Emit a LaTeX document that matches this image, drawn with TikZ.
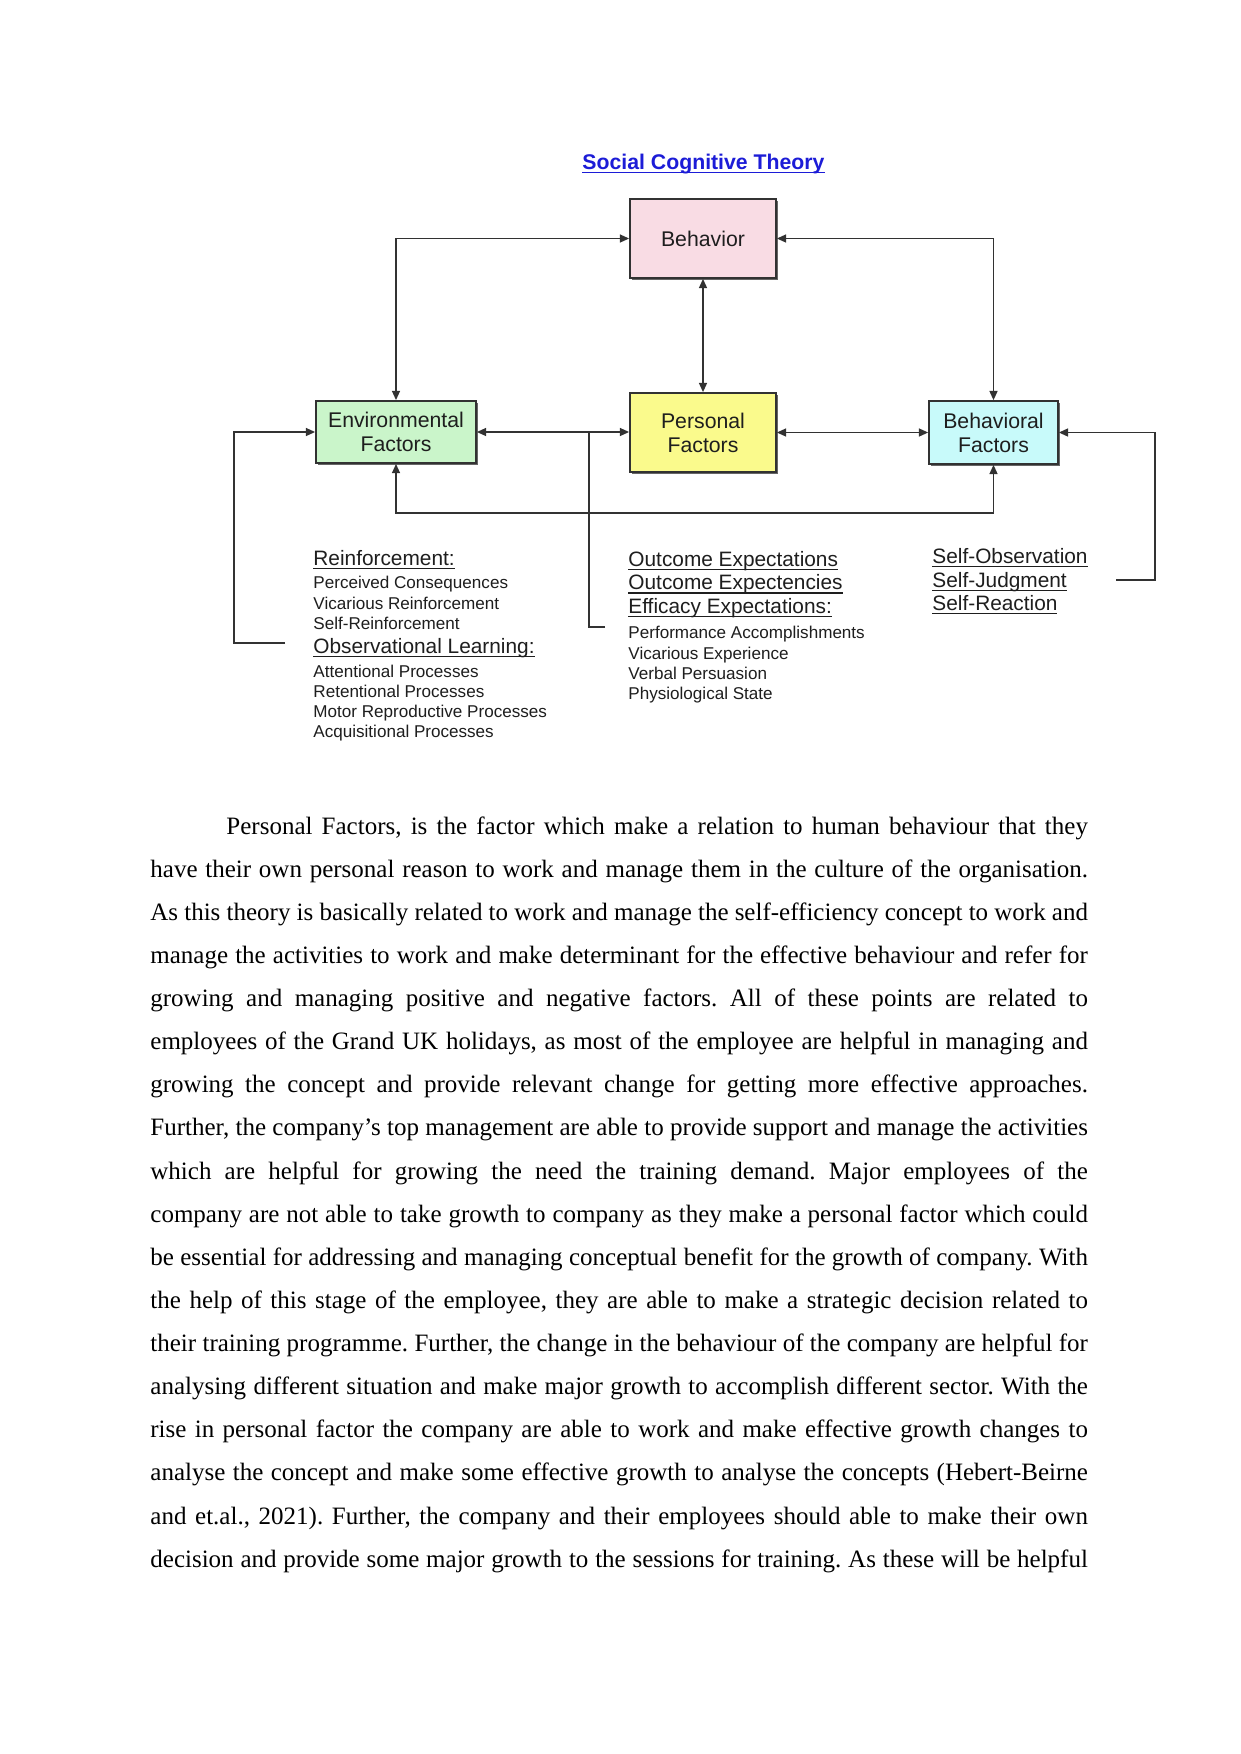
\documentclass[tikz,border=0pt]{standalone}
\usepackage{fontspec}
\setmainfont{Liberation Serif}
\newfontfamily\arialf{Liberation Sans}
\usetikzlibrary{arrows.meta,shadows}
\definecolor{linegray}{RGB}{50,50,50}
\definecolor{txt}{RGB}{30,30,30}
\definecolor{titleblue}{RGB}{28,28,215}
\definecolor{pinkfill}{RGB}{249,220,228}
\definecolor{greenfill}{RGB}{202,245,202}
\definecolor{yellowfill}{RGB}{250,250,140}
\definecolor{cyanfill}{RGB}{200,250,250}
\newcommand\myul[1]{\setbox0=\hbox{#1}\rlap{\vrule height -1.2pt depth 2.0pt width \wd0}\box0}
\newcommand\bodyln[1]{\hbox to 450pt{#1}}
\frenchspacing
\begin{document}
\begin{tikzpicture}[x=0.48pt,y=-0.48pt,
  >={Triangle[length=4.4pt,width=3.8pt]},
  box/.style={draw=linegray, line width=0.85pt, align=center, text=txt, inner sep=0pt,
    font=\arialf\fontsize{10.2pt}{11.5pt}\selectfont,
    drop shadow={shadow xshift=1.1pt,shadow yshift=-1.1pt,opacity=1,fill=black!60}},
  conn/.style={draw=linegray, line width=0.75pt},
  hdr/.style={anchor=base west, inner sep=0pt, text=txt, font=\arialf\fontsize{10pt}{12pt}\selectfont},
  sml/.style={anchor=base west, inner sep=0pt, text=txt, font=\arialf\fontsize{8.2pt}{10pt}\selectfont}]
\useasboundingbox[fill=white] (0,0) rectangle (1241,1754);

% title
\node[anchor=base, inner sep=0pt, text=titleblue, font=\arialf\bfseries\fontsize{10.2pt}{12pt}\selectfont] (title) at (703.5,169) {\myul{Social Cognitive Theory}};

% boxes
\node[box, fill=pinkfill, minimum width=70.1pt, minimum height=37.9pt] (beh) at (703,238.5) {Behavior};
\node[box, fill=greenfill, minimum width=76.8pt, minimum height=29.8pt] (env) at (396,432) {Environmental\\Factors};
\node[box, fill=yellowfill, minimum width=70.1pt, minimum height=37.9pt] (pers) at (703,432.5) {Personal\\Factors};
\node[box, fill=cyanfill, minimum width=61.9pt, minimum height=30.2pt] (bf) at (993.5,432.5) {Behavioral\\Factors};

% helper coordinates
\coordinate (bl) at (396,513);
\coordinate (lbend) at (285,643);
\coordinate (lbcorner) at (234,643);
\coordinate (pbend) at (605,627);
\coordinate (pbcorner) at (589,627);
\coordinate (rbend) at (1116,580);
\coordinate (rbcorner) at (1155,580);

% connectors
\draw[conn,<->] (beh.west) -| (env.north);
\draw[conn,<->] (beh.east) -| (bf.north);
\draw[conn,<->] (beh.south) -- (pers.north);
\draw[conn,<->] (env.east) -- (env.east -| pers.west);
\draw[conn,<->] (pers.east) -- (bf.west);
\draw[conn,<->] (env.south) -- (bl) -| (bf.south);
\draw[conn,->] (lbend) -- (lbcorner) |- (env.west);
\draw[conn] (pbend) -- (pbcorner) -- (pbcorner |- pers.west);
\draw[conn,->] (rbend) -- (rbcorner) |- (bf.east);

% left column
\node[hdr] (l1) at (313,565) {\myul{Reinforcement:}};
\node[sml] (l2) at (313,588) {Perceived Consequences};
\node[sml] (l3) at (313,609) {Vicarious Reinforcement};
\node[sml] (l4) at (313,629) {Self-Reinforcement};
\node[hdr] (l5) at (313,653) {\myul{Observational Learning:}};
\node[sml] (l6) at (313,677) {Attentional Processes};
\node[sml] (l7) at (313,697) {Retentional Processes};
\node[sml] (l8) at (313,717) {Motor Reproductive Processes};
\node[sml] (l9) at (313,737) {Acquisitional Processes};

% middle column
\node[hdr] (m1) at (628,566) {\myul{Outcome Expectations}};
\node[hdr] (m2) at (628,589.5) {\myul{Outcome Expectencies}};
\node[hdr] (m3) at (628,613) {\myul{Efficacy Expectations:}};
\node[sml] (m4) at (628,638) {Performance Accomplishments};
\node[sml] (m5) at (628,659) {Vicarious Experience};
\node[sml] (m6) at (628,679) {Verbal Persuasion};
\node[sml] (m7) at (628,699) {Physiological State};

% right column
\node[hdr] (r1) at (932,563) {\myul{Self-Observation}};
\node[hdr] (r2) at (932,587) {\myul{Self-Judgment}};
\node[hdr] (r3) at (932,610) {\myul{Self-Reaction}};

% body text
\node[anchor=base west, inner sep=0pt, font=\fontsize{12pt}{20.7pt}\selectfont] (body) at (150,834) {\vtop{\baselineskip=20.7pt
\bodyln{\hskip36.5pt Personal Factors, is the factor which make a relation to human behaviour that they}
\bodyln{have their own personal reason to work and manage them in the culture of the organisation.}
\bodyln{As this theory is basically related to work and manage the self-efficiency concept to work and}
\bodyln{manage the activities to work and make determinant for the effective behaviour and refer for}
\bodyln{growing and managing positive and negative factors. All of these points are related to}
\bodyln{employees of the Grand UK holidays, as most of the employee are helpful in managing and}
\bodyln{growing the concept and provide relevant change for getting more effective approaches.}
\bodyln{Further, the company’s top management are able to provide support and manage the activities}
\bodyln{which are helpful for growing the need the training demand. Major employees of the}
\bodyln{company are not able to take growth to company as they make a personal factor which could}
\bodyln{be essential for addressing and managing conceptual benefit for the growth of company. With}
\bodyln{the help of this stage of the employee, they are able to make a strategic decision related to}
\bodyln{their training programme. Further, the change in the behaviour of the company are helpful for}
\bodyln{analysing different situation and make major growth to accomplish different sector. With the}
\bodyln{rise in personal factor the company are able to work and make effective growth changes to}
\bodyln{analyse the concept and make some effective growth to analyse the concepts (Hebert-Beirne}
\bodyln{and et.al., 2021). Further, the company and their employees should able to make their own}
\bodyln{decision and provide some major growth to the sessions for training. As these will be helpful}
}};
\end{tikzpicture}
\end{document}
